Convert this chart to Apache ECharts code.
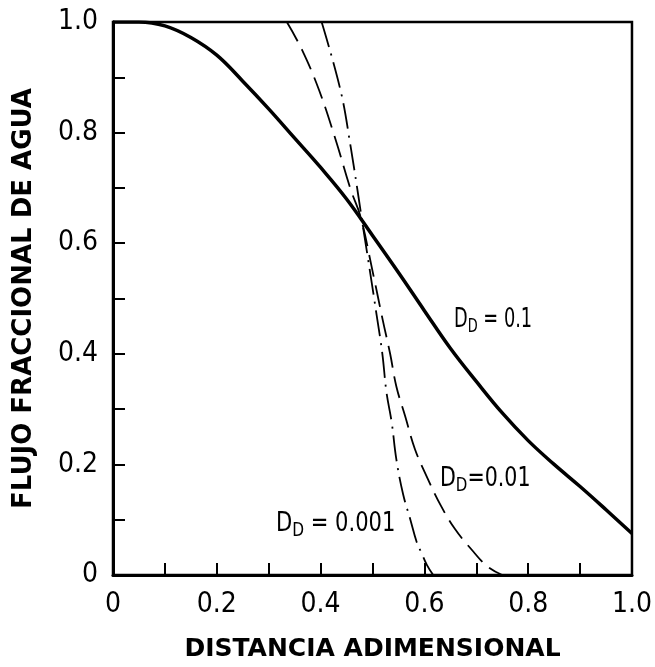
<!DOCTYPE html>
<html>
<head>
<meta charset="utf-8">
<script src="https://cdn.jsdelivr.net/npm/echarts@6/dist/echarts.min.js"></script>
<style>html,body{margin:0;padding:0;background:#fff;}#c{width:655px;height:667px;}</style>
</head>
<body>
<div id="c"></div>
<script>
// Data
const xTicks = [0, 0.2, 0.4, 0.6, 0.8, 1.0];
const yTicks = [0, 0.2, 0.4, 0.6, 0.8, 1.0];

const x_D01 = [0, 0.05, 0.1, 0.15, 0.2, 0.25, 0.3, 0.35, 0.4, 0.45, 0.5, 0.55, 0.6, 0.65, 0.7, 0.75, 0.8, 0.85, 0.9, 0.95, 1.0];
const y_D01 = [1.0, 1.0, 0.993, 0.972, 0.94, 0.893, 0.843, 0.79, 0.737, 0.68, 0.614, 0.547, 0.478, 0.41, 0.35, 0.293, 0.243, 0.2, 0.16, 0.118, 0.075];

const x_D001 = [0.335, 0.364, 0.397, 0.429, 0.458, 0.477, 0.50, 0.52, 0.534, 0.546, 0.563, 0.582, 0.607, 0.632, 0.659, 0.69, 0.722, 0.75];
const y_D001 = [1.0, 0.95, 0.877, 0.787, 0.697, 0.648, 0.55, 0.46, 0.40, 0.341, 0.287, 0.227, 0.173, 0.125, 0.083, 0.047, 0.015, 0.0];

const x_D0001 = [0.402, 0.439, 0.458, 0.473, 0.48, 0.495, 0.508, 0.519, 0.527, 0.537, 0.546, 0.559, 0.573, 0.585, 0.594, 0.605, 0.617];
const y_D0001 = [1.0, 0.874, 0.774, 0.684, 0.64, 0.55, 0.47, 0.40, 0.33, 0.276, 0.209, 0.146, 0.10, 0.06, 0.041, 0.018, 0.0];

const xTitle = 'DISTANCIA ADIMENSIONAL';
const yTitle = 'FLUJO FRACCIONAL DE AGUA';
const labels = [
  {sub: 'D', text: ' = 0.1'},
  {sub: 'D', text: '=0.01'},
  {sub: 'D', text: ' = 0.001'}
];

function pairs(xs, ys) { return xs.map((x, i) => [x, ys[i]]); }
function tickFmt(v) {
  const r = Math.round(v * 10);
  if (r % 2 !== 0) return '';
  if (r === 0) return '0';
  return (r / 10).toFixed(1);
}

const chart = echarts.init(document.getElementById('c'), null, {renderer: 'canvas'});
const tickFont = {fontFamily: 'DejaVu Sans Condensed, DejaVu Sans', fontSize: 28, color: '#000'};
const labFont = 'DejaVu Sans Condensed, DejaVu Sans';

function richLabel(l) {
  return {
    text: '{m|D}{s|' + l.sub + '}{m|' + l.text + '}',
    rich: {
      m: {fontFamily: labFont, fontSize: 26, fill: '#000', color: '#000'},
      s: {fontFamily: labFont, fontSize: 19, fill: '#000', color: '#000', padding: [14, 0, 0, 0]}
    }
  };
}

chart.setOption({
  animation: false,
  backgroundColor: '#fff',
  grid: {left: 113, right: 20, top: 22, bottom: 91, show: true, borderColor: '#000', borderWidth: 2.5},
  xAxis: {
    type: 'value', min: 0, max: 1, interval: 0.1,
    name: xTitle, nameLocation: 'middle', nameGap: 62,
    nameTextStyle: {fontFamily: 'DejaVu Sans', fontWeight: 'bold', fontSize: 25, color: '#000'},
    axisLine: {show: true, lineStyle: {color: '#000', width: 3}},
    axisTick: {show: true, inside: true, length: 12, lineStyle: {color: '#000', width: 2}},
    axisLabel: Object.assign({formatter: tickFmt, margin: 16, showMinLabel: true, showMaxLabel: true}, tickFont),
    splitLine: {show: false}
  },
  yAxis: {
    type: 'value', min: 0, max: 1, interval: 0.1,
    name: yTitle, nameLocation: 'middle', nameGap: 76,
    nameTextStyle: {fontFamily: 'DejaVu Sans', fontWeight: 'bold', fontSize: 26, color: '#000'},
    axisLine: {show: true, lineStyle: {color: '#000', width: 3}},
    axisTick: {show: true, inside: true, length: 12, lineStyle: {color: '#000', width: 2}},
    axisLabel: Object.assign({formatter: tickFmt, margin: 15, showMinLabel: true, showMaxLabel: true}, tickFont),
    splitLine: {show: false}
  },
  series: [
    {type: 'line', data: pairs(x_D01, y_D01), smooth: 0.4, symbol: 'none',
     lineStyle: {color: '#000', width: 3.5}, z: 5},
    {type: 'line', data: pairs(x_D001, y_D001), smooth: 0.4, symbol: 'none',
     lineStyle: {color: '#000', width: 1.8, type: [22, 9]}, z: 4},
    {type: 'line', data: pairs(x_D0001, y_D0001), smooth: 0.4, symbol: 'none',
     lineStyle: {color: '#000', width: 1.8, type: [26, 7, 2, 7]}, z: 4}
  ],
  graphic: [
    {type: 'text', x: 454, y: 304, scaleX: 0.76, style: richLabel(labels[0])},
    {type: 'text', x: 440, y: 463, scaleX: 0.88, style: richLabel(labels[1])},
    {type: 'text', x: 276, y: 508, scaleX: 0.9, style: richLabel(labels[2])}
  ]
});
</script>
</body>
</html>
